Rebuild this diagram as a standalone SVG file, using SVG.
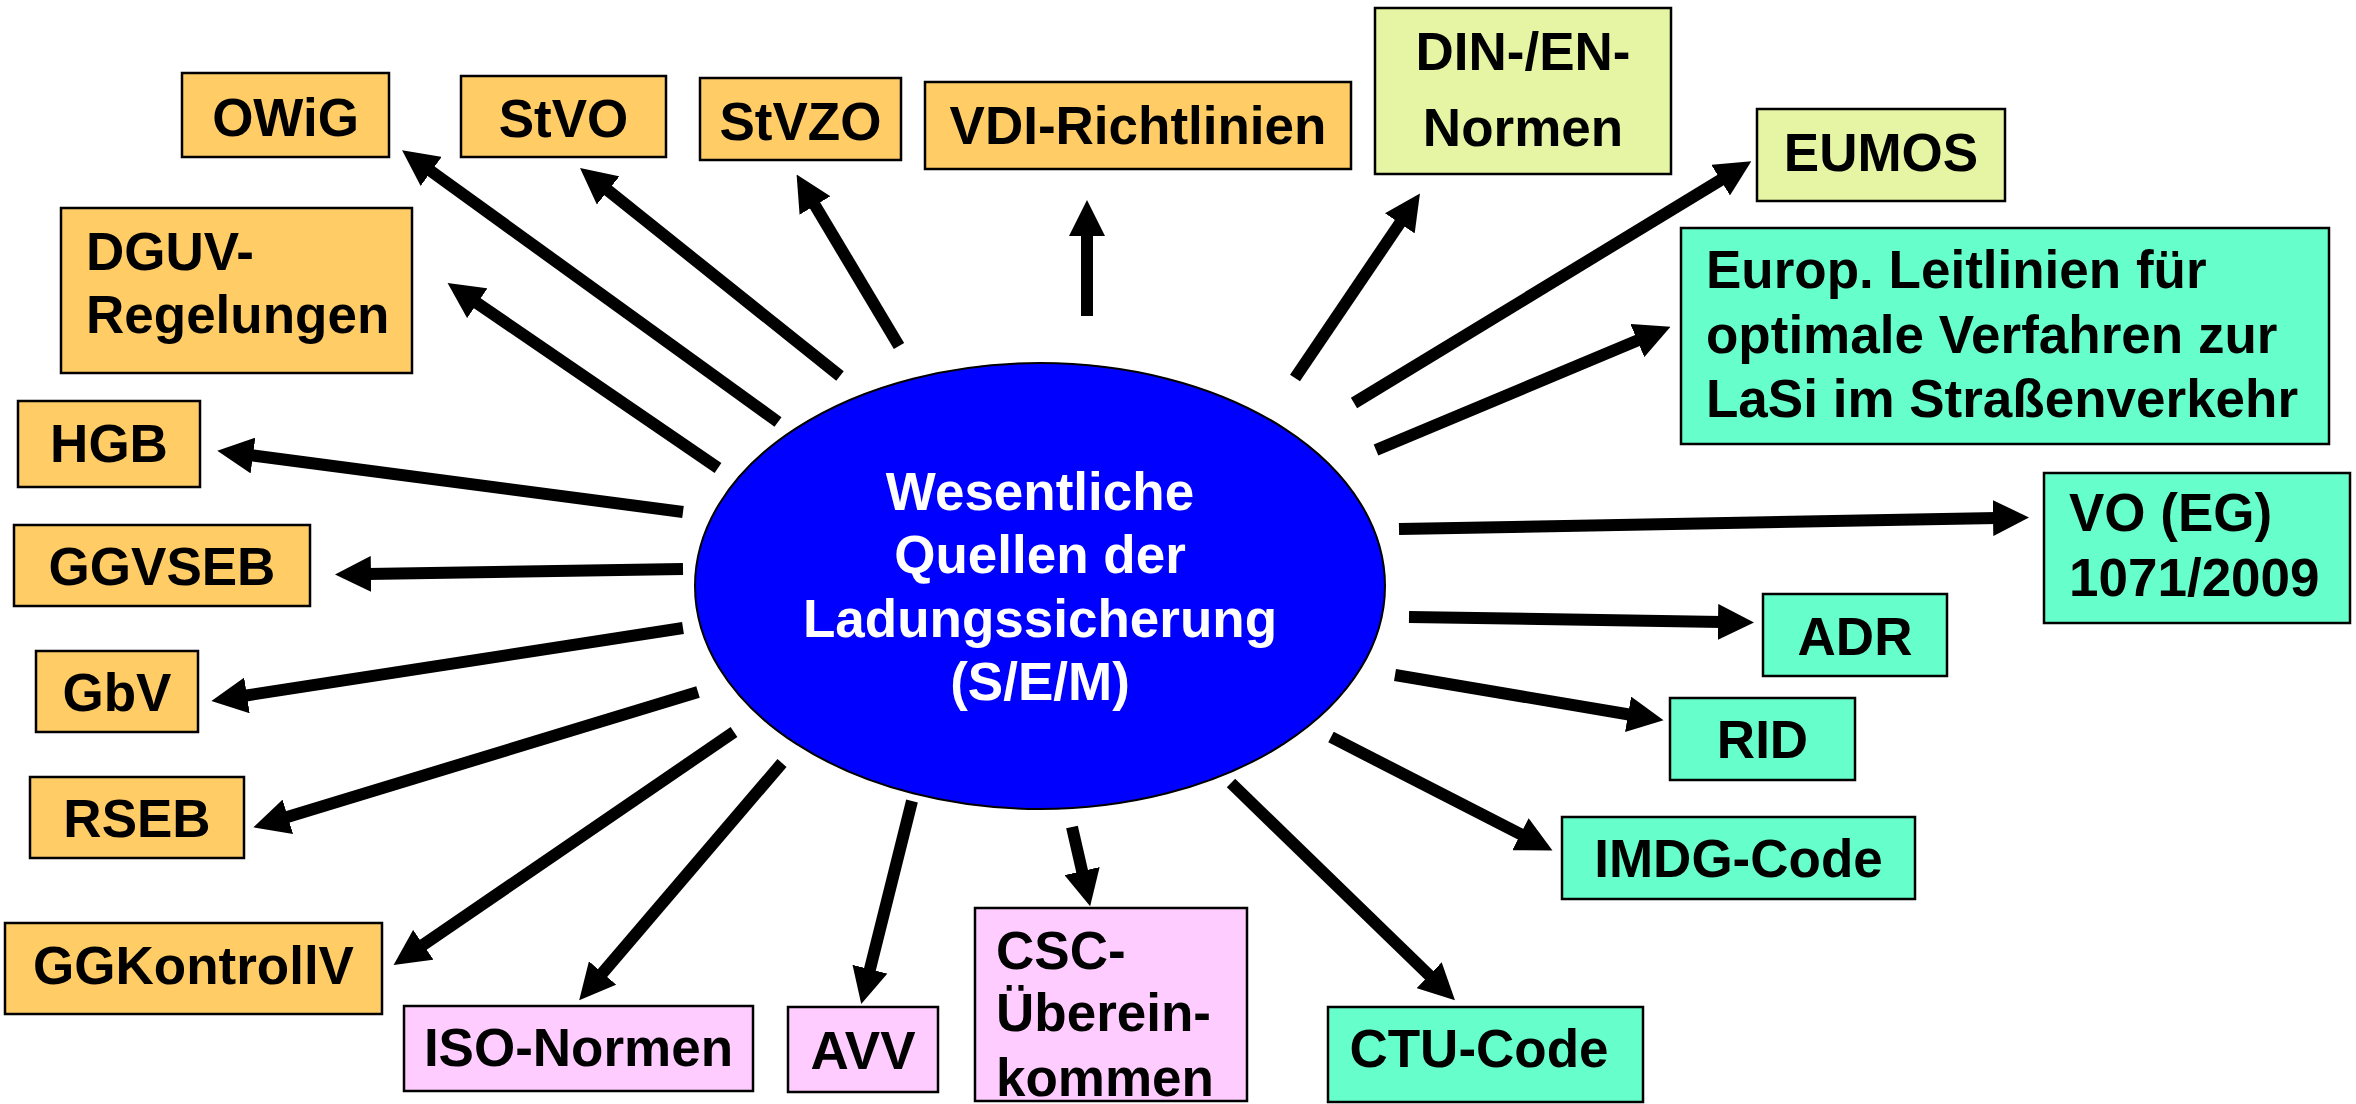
<svg xmlns="http://www.w3.org/2000/svg" width="2356" height="1104" viewBox="0 0 2356 1104">
<defs>
<style>
.b{stroke:#000;stroke-width:2.5}
.o{fill:#FFCC66}
.y{fill:#E6F5A3}
.m{fill:#66FFCC}
.p{fill:#FFCCFF}
text{font-family:"Liberation Sans",Arial,sans-serif;font-weight:bold;font-size:53px;fill:#000}
.c{text-anchor:middle}
.w{fill:#fff}
.a{stroke:#000;stroke-width:12;fill:none;marker-end:url(#ah)}
</style>
<marker id="ah" markerUnits="userSpaceOnUse" markerWidth="36" markerHeight="36" refX="4" refY="18" orient="auto" viewBox="0 0 36 36">
<path d="M0,0 L36,18 L0,36 z" fill="#000"/>
</marker>
</defs>
<rect width="2356" height="1104" fill="#fff"/>
<g id="connectors">
<line class="a" x1="778" y1="422" x2="428" y2="169"/>
<line class="a" x1="718" y1="468" x2="474" y2="301"/>
<line class="a" x1="840" y1="376" x2="605" y2="188"/>
<line class="a" x1="899" y1="346" x2="813" y2="202"/>
<line class="a" x1="1087" y1="316" x2="1087" y2="232"/>
<line class="a" x1="1295" y1="378" x2="1402" y2="220"/>
<line class="a" x1="1354" y1="403" x2="1724" y2="178"/>
<line class="a" x1="1376" y1="450" x2="1641" y2="339"/>
<line class="a" x1="1399" y1="529" x2="1997" y2="518"/>
<line class="a" x1="1409" y1="617" x2="1722" y2="622"/>
<line class="a" x1="1395" y1="675" x2="1632" y2="715"/>
<line class="a" x1="1331" y1="737" x2="1524" y2="836"/>
<line class="a" x1="1231" y1="783" x2="1432" y2="978"/>
<line class="a" x1="1072" y1="827" x2="1083" y2="875"/>
<line class="a" x1="912" y1="801" x2="869" y2="973"/>
<line class="a" x1="782" y1="763" x2="600" y2="976"/>
<line class="a" x1="734" y1="732" x2="420" y2="947"/>
<line class="a" x1="698" y1="692" x2="284" y2="818"/>
<line class="a" x1="683" y1="628" x2="243" y2="696"/>
<line class="a" x1="683" y1="569" x2="367" y2="574"/>
<line class="a" x1="683" y1="512" x2="249" y2="455"/>
</g>
<g id="center">
<ellipse cx="1040" cy="586" rx="345" ry="223" fill="#0000FF" stroke="#000" stroke-width="2"/>
<text class="c w" x="1040" y="510">Wesentliche</text>
<text class="c w" x="1040" y="573">Quellen der</text>
<text class="c w" x="1040" y="637">Ladungssicherung</text>
<text class="c w" x="1040" y="700">(S/E/M)</text>
</g>
<g id="owig"><rect class="b o" x="182" y="73" width="207" height="84"/><text class="c" x="285.5" y="136">OWiG</text></g>
<g id="stvo"><rect class="b o" x="461" y="76" width="205" height="81"/><text class="c" x="563.5" y="137">StVO</text></g>
<g id="stvzo"><rect class="b o" x="700" y="78" width="201" height="82"/><text class="c" x="800.5" y="140">StVZO</text></g>
<g id="vdi"><rect class="b o" x="925" y="82" width="426" height="87"/><text class="c" x="1138" y="144">VDI-Richtlinien</text></g>
<g id="din"><rect class="b y" x="1375" y="8" width="296" height="166"/><text class="c" x="1523" y="70">DIN-/EN-</text><text class="c" x="1523" y="146">Normen</text></g>
<g id="eumos"><rect class="b y" x="1757" y="109" width="248" height="92"/><text class="c" x="1881" y="171">EUMOS</text></g>
<g id="europ"><rect class="b m" x="1681" y="228" width="648" height="216"/><text x="1706" y="288">Europ. Leitlinien für</text><text x="1706" y="353">optimale Verfahren zur</text><text x="1706" y="417">LaSi im Straßenverkehr</text></g>
<g id="dguv"><rect class="b o" x="61" y="208" width="351" height="165"/><text x="86" y="270">DGUV-</text><text x="86" y="333">Regelungen</text></g>
<g id="hgb"><rect class="b o" x="18" y="401" width="182" height="86"/><text class="c" x="109" y="462">HGB</text></g>
<g id="ggvseb"><rect class="b o" x="14" y="525" width="296" height="81"/><text class="c" x="162" y="585">GGVSEB</text></g>
<g id="gbv"><rect class="b o" x="36" y="651" width="162" height="81"/><text class="c" x="117" y="711">GbV</text></g>
<g id="rseb"><rect class="b o" x="30" y="777" width="214" height="81"/><text class="c" x="137" y="837">RSEB</text></g>
<g id="ggkontrollv"><rect class="b o" x="5" y="923" width="377" height="91"/><text class="c" x="193.5" y="984">GGKontrollV</text></g>
<g id="iso"><rect class="b p" x="404" y="1006" width="349" height="85"/><text class="c" x="578.5" y="1066">ISO-Normen</text></g>
<g id="avv"><rect class="b p" x="788" y="1007" width="150" height="85"/><text class="c" x="863" y="1069">AVV</text></g>
<g id="csc"><rect class="b p" x="975" y="908" width="272" height="193"/><text x="996" y="969">CSC-</text><text x="996" y="1031">Überein-</text><text x="996" y="1096">kommen</text></g>
<g id="ctu"><rect class="b m" x="1328" y="1007" width="315" height="95"/><text class="c" x="1479" y="1067">CTU-Code</text></g>
<g id="imdg"><rect class="b m" x="1562" y="817" width="353" height="82"/><text class="c" x="1738.5" y="877">IMDG-Code</text></g>
<g id="rid"><rect class="b m" x="1670" y="698" width="185" height="82"/><text class="c" x="1762.5" y="758">RID</text></g>
<g id="adr"><rect class="b m" x="1763" y="594" width="184" height="82"/><text class="c" x="1855" y="655">ADR</text></g>
<g id="vo"><rect class="b m" x="2044" y="473" width="306" height="150"/><text x="2069" y="531">VO (EG)</text><text x="2069" y="596">1071/2009</text></g>
</svg>
